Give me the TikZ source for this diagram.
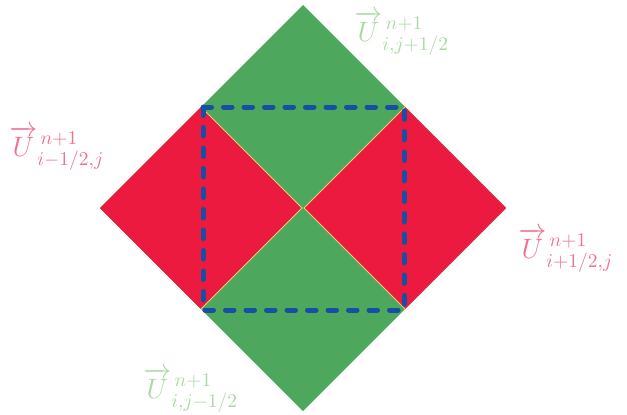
\documentclass[tikz,border=0pt]{standalone}
\usepackage{amsmath}
\definecolor{cellgreen}{HTML}{4DA85E}
\definecolor{cellred}{HTML}{EC1A3E}
\definecolor{edgeyellow}{HTML}{E8CC70}
\definecolor{dashblue}{HTML}{1750A3}
\definecolor{labelred}{HTML}{F0708E}
\definecolor{labelgreen}{HTML}{A9D9A3}
\tikzset{
  redcell/.style={fill=cellred},
  greencell/.style={fill=cellgreen},
  seam/.style={draw=edgeyellow, line width=1pt},
  dualbox/.style={draw=dashblue, line width=5pt, line cap=round, dash pattern=on 8.5pt off 12pt},
  lbl/.style={anchor=base west, inner sep=0pt, font=\Large, scale=1.95}
}
\begin{document}
\begin{tikzpicture}[x=1pt,y=-1pt]
\useasboundingbox (0,0) rectangle (627,415);
% big green diamond
\coordinate (c) at (303,208);
\fill[greencell] (303,5) coordinate (gt) -- (100,208) coordinate (gl) -- (303,411) coordinate (gb) -- (506,208) coordinate (gr) -- cycle;
% red diamonds
\coordinate (lt) at (201,107);
\coordinate (lr) at (302,208);
\coordinate (lb) at (201,309);
\coordinate (rt) at (405,107);
\coordinate (rl) at (304,208);
\coordinate (rb) at (405,309);
\fill[redcell] (lt) -- (gl) -- (lb) -- (lr) -- cycle;
\fill[redcell] (rt) -- (rl) -- (rb) -- (gr) -- cycle;
\draw[seam] (lt) -- (lr) -- (lb);
\draw[seam] (rt) -- (rl) -- (rb);
% dashed control volume
\coordinate (q1) at (203,107);
\coordinate (q2) at (404,310);
\draw[dualbox] (q1) rectangle (q2);
% labels
\node[lbl, text=labelgreen] (ltop) at (354,41) {$\overrightarrow{U}^{\,n+1}_{i,j+1/2}$};
\node[lbl, text=labelred] (lleft) at (9,156) {$\overrightarrow{U}^{\,n+1}_{i-1/2,j}$};
\node[lbl, text=labelred] (lright) at (518,258) {$\overrightarrow{U}^{\,n+1}_{i+1/2,j}$};
\node[lbl, text=labelgreen] (lbot) at (143,398) {$\overrightarrow{U}^{\,n+1}_{i,j-1/2}$};
\end{tikzpicture}
\end{document}
